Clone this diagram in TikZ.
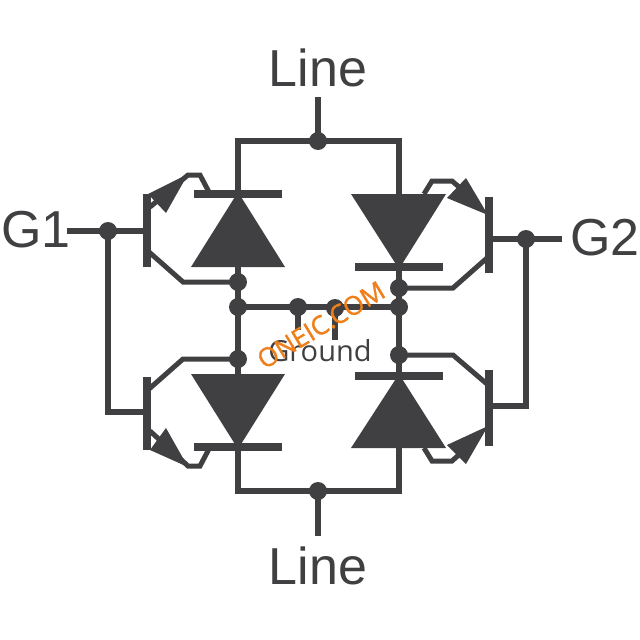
\documentclass[tikz,border=0pt]{standalone}
\usepackage{fontspec}
\setmainfont{Liberation Sans}
\newfontfamily\opsans{Open Sans}
\newfontfamily\opsansb[FakeBold=1.3]{Open Sans}
\definecolor{ink}{HTML}{404042}
\definecolor{wm}{HTML}{EE7F1A}
\tikzset{
  wire/.style={draw=ink,line width=5.7pt,line cap=butt,line join=miter},
  thin wire/.style={draw=ink,line width=5pt,line join=miter},
  solid shape/.style={fill=ink,draw=none},
  junction/.style={circle,fill=ink,draw=none,minimum size=18pt,inner sep=0pt},
  big label/.style={text=ink,font=\fontsize{52}{52}\selectfont,inner sep=0pt,anchor=base},
}
\begin{document}
\begin{tikzpicture}[x=1pt,y=-1pt]
\useasboundingbox (0,0) rectangle (640,640);
% junctions and free ends
\node[junction] (top) at (318,141) {};
\node[junction] (bot) at (318,491) {};
\coordinate (topend) at (318,97);
\coordinate (botend) at (318,536);
\node[junction] (g1) at (108,231) {};
\node[junction] (g2) at (526,239) {};
\node[junction] (a1) at (238,282) {};
\node[junction] (a2) at (238,307) {};
\node[junction] (a3) at (238,359) {};
\node[junction] (b1) at (399,288) {};
\node[junction] (b2) at (399,307) {};
\node[junction] (b3) at (399,355) {};
\node[junction] (m1) at (298,307) {};
\node[junction] (m2) at (335,308) {};
\coordinate (m1e) at (298,330);
\coordinate (m2e) at (335,340);
\coordinate (g1e) at (67,231);
\coordinate (g2e) at (562,239);
% rails and verticals
\draw[wire] (topend) -- (top.center);
\draw[wire] (botend) -- (bot.center);
\draw[wire] (238,194) |- (399,141) -- (399,194);
\draw[wire] (238,447) |- (399,491) -- (399,447);
\draw[wire] (238,194) -- (238,447);
\draw[wire] (399,267) -- (399,376);
\draw[wire] (a2.center) -- (b2.center);
\draw[wire] (m1.center) -- (m1e);
\draw[wire] (m2.center) -- (m2e);
\draw[wire] (g1e) -- (147,231);
\draw[wire] (526,239) -- (489,239);
\draw[wire] (g2.center) -- (g2e);
\draw[wire] (g1.center) |- (147,412);
\draw[wire] (g2.center) |- (489,406);
% thyristor triangles and bars
\fill[solid shape] (191,267) -- (285,267) -- (238,192) -- cycle;
\fill[solid shape] (194,190) rectangle (282,198);
\fill[solid shape] (351,194) -- (446,194) -- (399,269) -- cycle;
\fill[solid shape] (355,263) rectangle (443,271);
\fill[solid shape] (191,374) -- (285,374) -- (238,449) -- cycle;
\fill[solid shape] (194,443) rectangle (282,451);
\fill[solid shape] (351,448) -- (446,448) -- (399,374) -- cycle;
\fill[solid shape] (355,372) rectangle (443,380);
% transistor bars
\fill[solid shape] (143,194) rectangle (151,267);
\fill[solid shape] (485,197) rectangle (493,273);
\fill[solid shape] (143,377) rectangle (151,450);
\fill[solid shape] (485,370) rectangle (493,446);
% collectors
\draw[thin wire] (149,252) -- (183,282) -- (a1.center);
\draw[thin wire] (487,258) -- (453,288) -- (b1.center);
\draw[thin wire] (149,389) -- (183,359) -- (a3.center);
\draw[thin wire] (487,384) -- (453,355) -- (b3.center);
% emitters
\draw[thin wire] (150,207) -- (188,175) -- (200,175) -- (210,194);
\draw[thin wire] (424,194) -- (432,181) -- (452,181) -- (472,198);
\draw[thin wire] (150,431) -- (188,466) -- (200,466) -- (210,447);
\draw[thin wire] (424,448) -- (432,461) -- (452,461) -- (472,443);
% arrowheads
\fill[solid shape] (148,194) -- (188,174) -- (166,213) -- cycle;
\fill[solid shape] (488,215) -- (447,198) -- (466,178) -- cycle;
\fill[solid shape] (150,450) -- (166,428) -- (188,467) -- cycle;
\fill[solid shape] (488,426) -- (447,445) -- (466,464) -- cycle;
% labels
\node[big label] (l1) at (318,86) {Line};
\node[big label] (l2) at (318,584) {Line};
\node[big label,anchor=base west] (l3) at (1,247) {G1};
\node[big label,anchor=base east] (l4) at (640,255) {G2};
\node[text=ink,font=\opsans\fontsize{29}{29}\selectfont,inner sep=0pt,anchor=base] (l5) at (320,361) {Ground};
\node[text=wm,font=\opsansb\fontsize{26}{26}\selectfont,inner sep=0pt,rotate=31] (wmk) at (321,325) {ONEIC.COM};
\end{tikzpicture}
\end{document}
